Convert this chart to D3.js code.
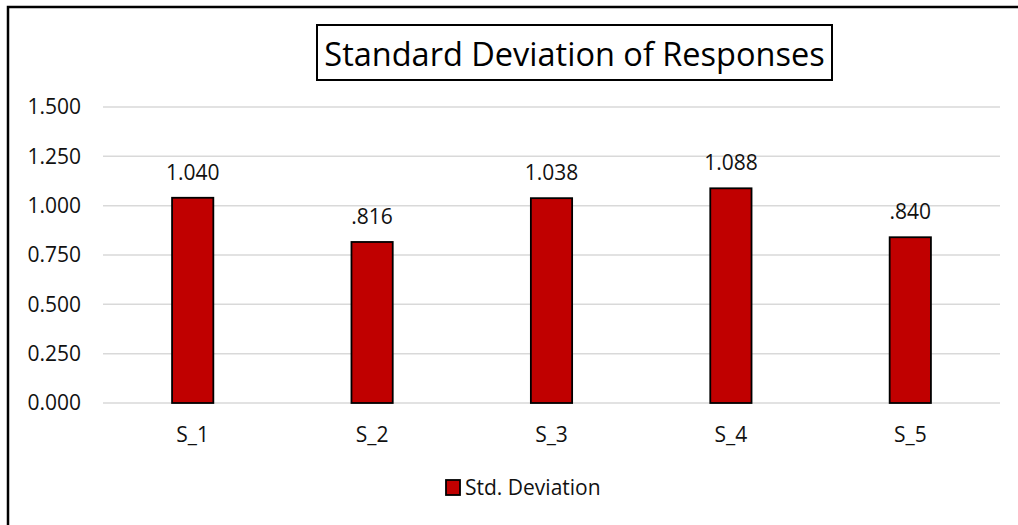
<!DOCTYPE html>
<html>
<head>
<meta charset="utf-8">
<script src="https://cdn.jsdelivr.net/npm/d3@7"></script>
<style>
  html, body { margin: 0; padding: 0; background: #fff; }
  svg { display: block; font-family: "Open Sans", "Noto Sans", sans-serif; }
</style>
</head>
<body>
<svg id="chart" width="1018" height="525"></svg>
<script>
// Chart data
const categories = ["S_1", "S_2", "S_3", "S_4", "S_5"];
const stdDevValues = [1.040, 0.816, 1.038, 1.088, 0.840];
const valueLabels = ["1.040", ".816", "1.038", "1.088", ".840"];
const yTicks = [0, 0.25, 0.5, 0.75, 1.0, 1.25, 1.5];
const yTickLabels = ["0.000", "0.250", "0.500", "0.750", "1.000", "1.250", "1.500"];
const seriesName = "Std. Deviation";
const chartTitle = "Standard Deviation of Responses";

const svg = d3.select("#chart");
const W = 1018, H = 525;
const plot = { left: 103, right: 1000, top: 107, bottom: 403 };
const barColor = "#C00000";
const labelSize = 21;

// Outer chart frame
svg.append("rect")
  .attr("x", 8).attr("y", 7)
  .attr("width", W + 20).attr("height", H + 20)
  .attr("fill", "#fff").attr("stroke", "#000").attr("stroke-width", 2.5);

const x = d3.scaleBand()
  .domain(categories)
  .range([plot.left, plot.right])
  .paddingInner(0.77)
  .paddingOuter(0.385);

const y = d3.scaleLinear()
  .domain([0, 1.5])
  .range([plot.bottom, plot.top]);

// Horizontal gridlines
svg.append("g")
  .selectAll("line")
  .data(yTicks)
  .join("line")
  .attr("x1", plot.left).attr("x2", plot.right)
  .attr("y1", d => y(d)).attr("y2", d => y(d))
  .attr("stroke", "#d9d9d9").attr("stroke-width", 1.5);

// Y axis labels
const yAxis = d3.axisLeft(y)
  .tickValues(yTicks)
  .tickFormat((d, i) => yTickLabels[i])
  .tickSize(0)
  .tickPadding(0);
const yg = svg.append("g")
  .attr("transform", `translate(${plot.left - 22},0)`)
  .call(yAxis);
yg.select(".domain").remove();
yg.selectAll("text")
  .attr("font-family", "Open Sans")
  .attr("font-size", labelSize)
  .attr("fill", "#111");

// X axis labels
const xAxis = d3.axisBottom(x).tickSize(0).tickPadding(0);
const xg = svg.append("g")
  .attr("transform", `translate(0,${plot.bottom + 24})`)
  .call(xAxis);
xg.select(".domain").remove();
xg.selectAll("text")
  .attr("font-family", "Open Sans")
  .attr("font-size", labelSize)
  .attr("fill", "#111");

// Bars
svg.append("g")
  .selectAll("rect")
  .data(stdDevValues)
  .join("rect")
  .attr("x", (d, i) => x(categories[i]))
  .attr("y", d => y(d))
  .attr("width", x.bandwidth())
  .attr("height", d => y(0) - y(d))
  .attr("fill", barColor)
  .attr("stroke", "#000")
  .attr("stroke-width", 1.8);

// Value labels above bars
svg.append("g")
  .selectAll("text")
  .data(stdDevValues)
  .join("text")
  .attr("x", (d, i) => x(categories[i]) + x.bandwidth() / 2)
  .attr("y", d => y(d) - 18)
  .attr("text-anchor", "middle")
  .attr("font-family", "Open Sans")
  .attr("font-size", labelSize)
  .attr("fill", "#111")
  .text((d, i) => valueLabels[i]);

// Title with box
const titleBox = { x: 317, y: 25, w: 515, h: 55 };
svg.append("rect")
  .attr("x", titleBox.x).attr("y", titleBox.y)
  .attr("width", titleBox.w).attr("height", titleBox.h)
  .attr("fill", "#fff").attr("stroke", "#000").attr("stroke-width", 2);
svg.append("text")
  .attr("x", titleBox.x + titleBox.w / 2)
  .attr("y", titleBox.y + 41)
  .attr("text-anchor", "middle")
  .attr("font-family", "Open Sans")
  .attr("font-size", 32.5)
  .attr("fill", "#000")
  .text(chartTitle);

// Legend
const legend = svg.append("g").attr("transform", "translate(446,480)");
legend.append("rect")
  .attr("x", 0).attr("y", 0)
  .attr("width", 14).attr("height", 15)
  .attr("fill", barColor).attr("stroke", "#000").attr("stroke-width", 1.8);
legend.append("text")
  .attr("x", 19).attr("y", 15)
  .attr("font-family", "Open Sans")
  .attr("font-size", 21)
  .attr("fill", "#111")
  .text(seriesName);
</script>
</body>
</html>
